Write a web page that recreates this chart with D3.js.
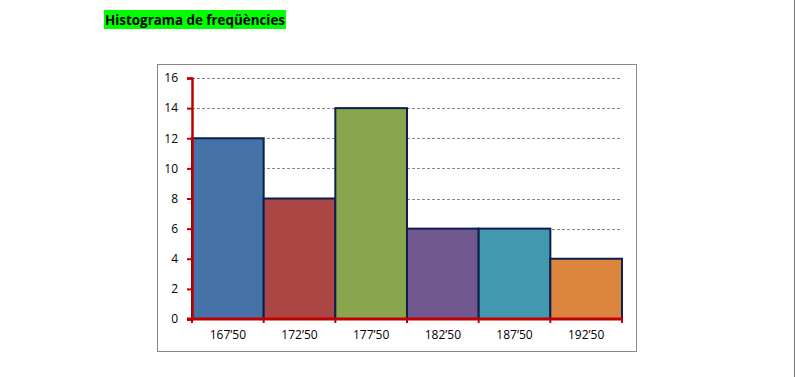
<!DOCTYPE html>
<html>
<head>
<meta charset="utf-8">
<script src="https://cdn.jsdelivr.net/npm/d3@7"></script>
<style>
  body { margin: 0; background: #fff; }
  svg { display: block; }
  .tick text { font-family: "Open Sans", "Liberation Sans", sans-serif; font-size: 12px; fill: #000; }
</style>
</head>
<body>
<div id="chart"></div>
<script>
const classes = ["167’50", "172’50", "177’50", "182’50", "187’50", "192’50"];
const freqs = [12, 8, 14, 6, 6, 4];
const yTicks = [0, 2, 4, 6, 8, 10, 12, 14, 16];
const barColors = ["#4572A7", "#AA4643", "#89A54E", "#71588F", "#4198AF", "#DB843D"];

const width = 795, height = 377;
const plot = { left: 192, right: 622, top: 78, bottom: 319 };

const svg = d3.select("#chart").append("svg")
    .attr("width", width)
    .attr("height", height);

// page edge line on the right
svg.append("line")
    .attr("x1", 794.5).attr("x2", 794.5)
    .attr("y1", 0).attr("y2", height)
    .attr("stroke", "#777").attr("stroke-width", 1);

// title
const title = svg.append("g");
title.append("rect")
    .attr("x", 104).attr("y", 10)
    .attr("width", 182).attr("height", 19)
    .attr("fill", "#00FF00");
title.append("text")
    .attr("x", 105).attr("y", 24.5)
    .attr("font-family", "'Open Sans', 'Liberation Sans', sans-serif")
    .attr("font-weight", "bold")
    .attr("font-size", 14)
    .attr("textLength", 180)
    .attr("lengthAdjust", "spacingAndGlyphs")
    .text("Histograma de freqüències");

// chart frame
svg.append("rect")
    .attr("x", 157.5).attr("y", 64.5)
    .attr("width", 479).attr("height", 287)
    .attr("fill", "#fff")
    .attr("stroke", "#888").attr("stroke-width", 1);

const x = d3.scaleBand()
    .domain(classes)
    .range([plot.left, plot.right])
    .padding(0);

const y = d3.scaleLinear()
    .domain([0, 16])
    .range([plot.bottom, plot.top]);

// gridlines
svg.append("g")
  .selectAll("line")
  .data(yTicks.filter(d => d > 0))
  .join("line")
    .attr("x1", plot.left).attr("x2", plot.right)
    .attr("y1", d => Math.round(y(d)) + 0.5)
    .attr("y2", d => Math.round(y(d)) + 0.5)
    .attr("stroke", "#888")
    .attr("stroke-dasharray", "3,2");

// bars
svg.append("g")
  .selectAll("rect")
  .data(freqs)
  .join("rect")
    .attr("x", (d, i) => x(classes[i]))
    .attr("y", d => y(d))
    .attr("width", x.bandwidth())
    .attr("height", d => y(0) - y(d))
    .attr("fill", (d, i) => barColors[i])
    .attr("stroke", "#0C1F4F")
    .attr("stroke-width", 2);

// y axis
const yAxis = svg.append("g")
    .attr("transform", `translate(${plot.left},0)`)
    .call(d3.axisLeft(y).tickValues(yTicks).tickSize(5).tickPadding(9));
yAxis.select(".domain").attr("stroke", "#C00000").attr("stroke-width", 2.5);
yAxis.selectAll(".tick line").attr("stroke", "#C00000").attr("stroke-width", 2);

// x axis
const xAxis = svg.append("g")
    .attr("transform", `translate(0,${plot.bottom})`)
    .call(d3.axisBottom(x).tickSize(0).tickPadding(11));
xAxis.select(".domain").remove();
xAxis.append("line")
    .attr("x1", plot.left - 5).attr("x2", plot.right + 1)
    .attr("stroke", "#C00000").attr("stroke-width", 3);
xAxis.selectAll(".edge")
  .data(d3.range(classes.length + 1))
  .join("line")
    .attr("class", "edge")
    .attr("x1", i => plot.left + i * x.bandwidth())
    .attr("x2", i => plot.left + i * x.bandwidth())
    .attr("y1", 0).attr("y2", 4)
    .attr("stroke", "#C00000").attr("stroke-width", 2);
</script>
</body>
</html>
